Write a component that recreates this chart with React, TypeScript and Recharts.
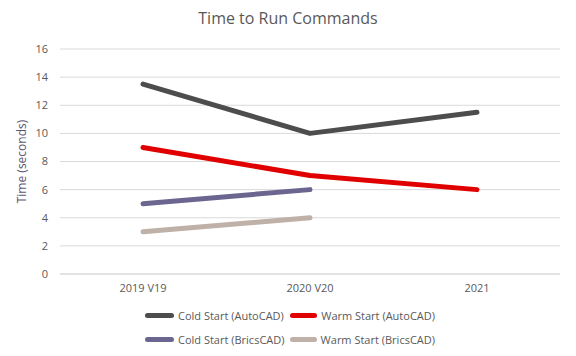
import { LineChart, Line, XAxis, YAxis, CartesianGrid, Legend, Label } from "recharts"

const categories = ["2019 V19", "2020 V20", "2021"]
const coldAutoCAD = [13.5, 10, 11.5]
const warmAutoCAD = [9, 7, 6]
const coldBricsCAD: (number | null)[] = [5, 6, null]
const warmBricsCAD: (number | null)[] = [3, 4, null]
const yTicks = [0, 2, 4, 6, 8, 10, 12, 14, 16]

const series = [
  { key: "coldAuto", name: "Cold Start (AutoCAD)", color: "#4d4d4d" },
  { key: "warmAuto", name: "Warm Start (AutoCAD)", color: "#e00000" },
  { key: "coldBrics", name: "Cold Start (BricsCAD)", color: "#6b6690" },
  { key: "warmBrics", name: "Warm Start (BricsCAD)", color: "#bfb0a8" },
]

const data = categories.map((c, i) => ({
  name: c,
  coldAuto: coldAutoCAD[i],
  warmAuto: warmAutoCAD[i],
  coldBrics: coldBricsCAD[i],
  warmBrics: warmBricsCAD[i],
}))

const font = "'Open Sans', 'Liberation Sans', sans-serif"
const textColor = "#595959"

function ChartLegend() {
  return (
    <div style={{ position: "absolute", left: 145, top: 303, width: 400, fontFamily: font, fontSize: 11, color: textColor }}>
      {[0, 1].map((row) => (
        <div key={row} style={{ display: "flex", height: 24, alignItems: "center" }}>
          {series.slice(row * 2, row * 2 + 2).map((s) => (
            <div key={s.key} style={{ display: "flex", alignItems: "center", width: 145, flexShrink: 0, whiteSpace: "nowrap" }}>
              <span style={{ display: "inline-block", width: 29, height: 5, borderRadius: 3, background: s.color, marginRight: 4 }} />
              <span>{s.name}</span>
            </div>
          ))}
        </div>
      ))}
    </div>
  )
}

export default function App() {
  return (
    <div style={{ position: "absolute", left: 0, top: 0, width: 576, height: 356, background: "#fff" }}>
      <div style={{ position: "absolute", top: 7, width: 576, textAlign: "center", fontFamily: font, fontSize: 16, color: textColor }}>
        Time to Run Commands
      </div>
      <LineChart width={576} height={356} data={data} margin={{ top: 49, right: 16, left: 0, bottom: 58 }}>
        <CartesianGrid vertical={false} stroke="#d9d9d9" />
        <XAxis
          dataKey="name"
          height={24}
          padding={{ left: 83, right: 83 }}
          tickLine={false}
          axisLine={{ stroke: "#d9d9d9" }}
          tickSize={0}
          tickMargin={10}
          tick={{ fill: textColor, fontSize: 11, fontFamily: font }}
        />
        <YAxis
          width={60}
          domain={[0, 16]}
          ticks={yTicks}
          interval={0}
          tickLine={false}
          axisLine={false}
          tickSize={0}
          tickMargin={12}
          tick={{ fill: textColor, fontSize: 11, fontFamily: font }}
        >
          <Label
            value="Time (seconds)"
            angle={-90}
            position="insideLeft"
            offset={22}
            style={{ textAnchor: "middle", fill: "#5e5570", fontSize: 12, fontFamily: font }}
          />
        </YAxis>
        {series.map((s) => (
          <Line
            key={s.key}
            dataKey={s.key}
            name={s.name}
            stroke={s.color}
            strokeWidth={5}
            strokeLinecap="round"
            strokeLinejoin="round"
            dot={false}
            activeDot={false}
            isAnimationActive={false}
            type="linear"
          />
        ))}
        <Legend content={() => null} />
      </LineChart>
      <ChartLegend />
    </div>
  )
}
